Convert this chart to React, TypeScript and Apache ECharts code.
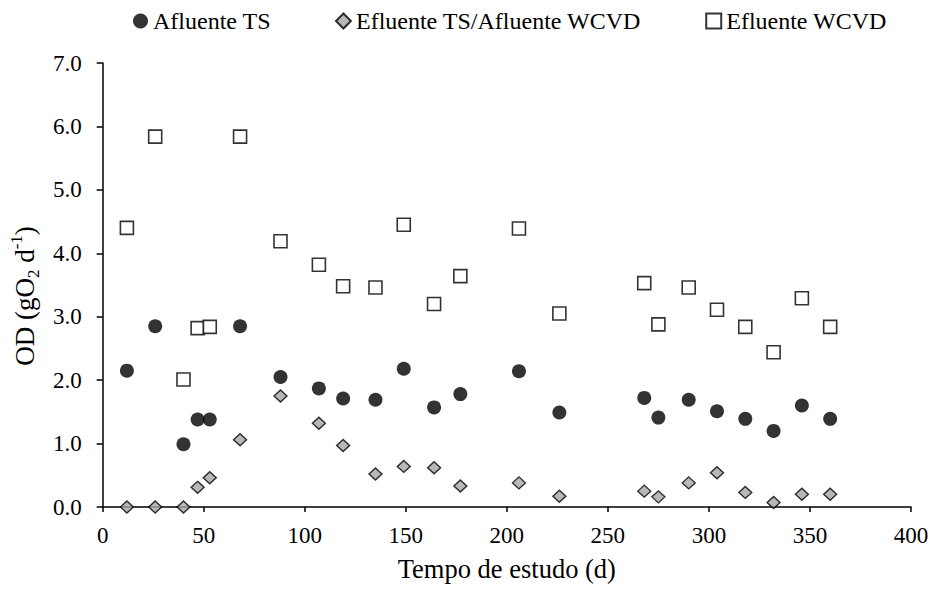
import React, { useEffect, useRef } from "react";
import * as echarts from "echarts";

const days = [12, 26, 40, 47, 53, 68, 88, 107, 119, 135, 149, 164, 177, 206, 226, 268, 275, 290, 304, 318, 332, 346, 360];
const afluenteTS = [2.15, 2.85, 0.99, 1.38, 1.38, 2.85, 2.05, 1.87, 1.71, 1.69, 2.18, 1.57, 1.78, 2.14, 1.49, 1.72, 1.41, 1.69, 1.51, 1.39, 1.2, 1.6, 1.39];
const efluenteTSAfluenteWCVD = [0, 0, 0, 0.31, 0.46, 1.06, 1.75, 1.32, 0.97, 0.52, 0.64, 0.62, 0.33, 0.38, 0.17, 0.25, 0.16, 0.38, 0.54, 0.23, 0.07, 0.2, 0.2];
const efluenteWCVD = [4.4, 5.84, 2.01, 2.82, 2.84, 5.84, 4.19, 3.82, 3.48, 3.46, 4.45, 3.2, 3.64, 4.39, 3.05, 3.53, 2.88, 3.46, 3.11, 2.84, 2.44, 3.29, 2.84];
const seriesNames = ["Afluente TS", "Efluente TS/Afluente WCVD", "Efluente WCVD"];

const FONT = "'Liberation Serif', serif";

export default function App() {
  const ref = useRef<HTMLDivElement>(null);
  useEffect(() => {
    if (!ref.current) return;
    const chart = echarts.init(ref.current, undefined, { renderer: "svg" });
    const pair = (ys: number[]) => days.map((d, i) => [d, ys[i]]);
    chart.setOption({
      animation: false,
      backgroundColor: "#ffffff",
      textStyle: { fontFamily: FONT, color: "#000" },
      legend: {
        top: 4,
        left: 128,
        itemGap: 64,
        itemWidth: 15,
        itemHeight: 15,
        textStyle: { fontFamily: FONT, fontSize: 24, color: "#000" },
        data: seriesNames,
      },
      grid: { left: 101, right: 25, top: 63, bottom: 84, containLabel: false },
      xAxis: {
        type: "value",
        min: 0,
        max: 400,
        interval: 50,
        name: "Tempo de estudo (d)",
        nameLocation: "middle",
        nameGap: 48,
        nameTextStyle: { fontFamily: FONT, fontSize: 26.5, color: "#000" },
        axisLine: { show: true, onZero: false, lineStyle: { color: "#000", width: 1.5 } },
        axisTick: { show: true, inside: false, length: 5, lineStyle: { color: "#000", width: 1.5 } },
        axisLabel: { fontFamily: FONT, fontSize: 23, color: "#000", margin: 17 },
        splitLine: { show: false },
      },
      yAxis: {
        type: "value",
        min: 0,
        max: 7,
        interval: 1,
        name: "OD (gO{sub|2} d{sup|-1})",
        nameLocation: "middle",
        nameRotate: 90,
        nameGap: 55,
        nameTextStyle: {
          fontFamily: FONT,
          fontSize: 27,
          color: "#000",
          lineHeight: 34,
          padding: [0, 22, 0, 0],
          rich: {
            sub: { fontFamily: FONT, fontSize: 17, color: "#000", verticalAlign: "bottom", lineHeight: 34 },
            sup: { fontFamily: FONT, fontSize: 17, color: "#000", verticalAlign: "top", lineHeight: 34 },
          },
        },
        axisLine: { show: true, lineStyle: { color: "#000", width: 1.5 } },
        axisTick: { show: true, inside: false, length: 6, lineStyle: { color: "#000", width: 1.5 } },
        axisLabel: {
          fontFamily: FONT,
          fontSize: 23,
          color: "#000",
          margin: 21,
          formatter: (v: number) => v.toFixed(1),
        },
        splitLine: { show: false },
      },
      series: [
        {
          name: seriesNames[0],
          type: "scatter",
          symbol: "circle",
          symbolSize: 14,
          itemStyle: { color: "#000", borderColor: "#000", borderWidth: 0 },
          data: pair(afluenteTS),
          z: 3,
        },
        {
          name: seriesNames[1],
          type: "scatter",
          symbol: "diamond",
          symbolSize: [13, 12],
          clip: false,
          itemStyle: { color: "#a6a6a6", borderColor: "#000", borderWidth: 1.4 },
          data: pair(efluenteTSAfluenteWCVD),
          z: 4,
        },
        {
          name: seriesNames[2],
          type: "scatter",
          symbol: "rect",
          symbolSize: 13,
          itemStyle: { color: "#fff", borderColor: "#000", borderWidth: 1.6 },
          data: pair(efluenteWCVD),
          z: 2,
        },
      ],
    });
    return () => chart.dispose();
  }, []);
  return (
    <div
      ref={ref}
      style={{ position: "absolute", left: 0, top: 0, width: 936, height: 591 }}
    />
  );
}
